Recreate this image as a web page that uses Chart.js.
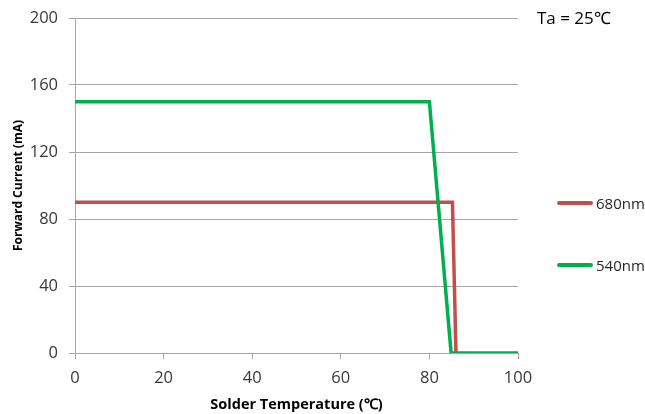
<!DOCTYPE html>
<html>
<head>
<meta charset="utf-8">
<script src="https://cdn.jsdelivr.net/npm/chart.js@4"></script>
<style>
    body { margin: 0; background: #fff; }
    #wrap { position: relative; width: 645px; height: 414px; font-family: "Open Sans", sans-serif; }
    .leg { position: absolute; left: 557px; height: 20px; display: flex; align-items: center; font-size: 15px; color: #262626; }
    .leg span.swatch { display: inline-block; width: 36px; height: 3.5px; border-radius: 2px; margin-right: 3px; }
    #ta { position: absolute; left: 537px; top: 6px; font-size: 17px; color: #000; }
</style>
</head>
<body>
<div id="wrap">
    <canvas id="chart" width="645" height="414"></canvas>
    <div id="ta">Ta = 25℃</div>
</div>
<script>
// 680nm curve
let redX = [0, 85.2, 86]
let redY = [90, 90, 0]
// 540nm curve
let greenX = [0, 80, 84.9, 100]
let greenY = [150, 150, 0, 0]

let xTicks = [0, 20, 40, 60, 80, 100]
let yTicks = [0, 40, 80, 120, 160, 200]

let series = [
    { label: '540nm', xs: greenX, ys: greenY, colour: '#00B050', legendTop: 255 },
    { label: '680nm', xs: redX, ys: redY, colour: '#C0504D', legendTop: 193 }
]

let toPoints = (xs, ys) => xs.map((x, i) => ({ x: x, y: ys[i] }))

let gridColour = '#A6A6A6'
let tickFont = { family: 'Open Sans', size: 16.5 }

const config = {
    type: 'line',
    data: {
        datasets: series.map(s => ({
            label: s.label,
            data: toPoints(s.xs, s.ys),
            borderColor: s.colour,
            borderWidth: 3.5,
            pointRadius: 0,
            tension: 0,
            fill: false
        }))
    },
    options: {
        responsive: false,
        animation: false,
        devicePixelRatio: 1,
        layout: { padding: { top: 18, right: 127, left: 0, bottom: 0 } },
        plugins: {
            legend: { display: false },
            tooltip: { enabled: false }
        },
        scales: {
            x: {
                type: 'linear',
                min: 0,
                max: 100,
                afterBuildTicks: s => { s.ticks = xTicks.map(v => ({ value: v })) },
                afterFit: s => { s.height = 61 },
                ticks: { font: tickFont, color: '#383838', padding: 9 },
                grid: { drawOnChartArea: false, tickLength: 6, color: gridColour },
                border: { color: gridColour },
                title: {
                    display: true,
                    text: 'Solder Temperature (℃)',
                    font: { family: 'Open Sans', size: 14.5, weight: 'bold' },
                    color: '#000',
                    padding: { top: 0, bottom: 0 }
                }
            },
            y: {
                min: 0,
                max: 200,
                afterBuildTicks: s => { s.ticks = yTicks.map(v => ({ value: v })) },
                afterFit: s => {
                    s.width = 75
                    s.paddingTop = 0
                    s.paddingBottom = 0
                },
                ticks: { font: tickFont, color: '#383838', padding: 11 },
                grid: { tickLength: 6, color: gridColour },
                border: { color: gridColour },
                title: {
                    display: true,
                    text: 'Forward Current (mA)',
                    font: { family: 'Open Sans', size: 12, weight: 'bold' },
                    color: '#000',
                    padding: { top: 11, bottom: 0 }
                }
            }
        }
    }
}

new Chart(document.getElementById('chart'), config)

// legend on the right, one entry per series
let wrap = document.getElementById('wrap')
series.forEach(s => {
    let item = document.createElement('div')
    item.className = 'leg'
    item.style.top = s.legendTop + 'px'
    let sw = document.createElement('span')
    sw.className = 'swatch'
    sw.style.background = s.colour
    item.appendChild(sw)
    item.appendChild(document.createTextNode(s.label))
    wrap.appendChild(item)
})
</script>
</body>
</html>
